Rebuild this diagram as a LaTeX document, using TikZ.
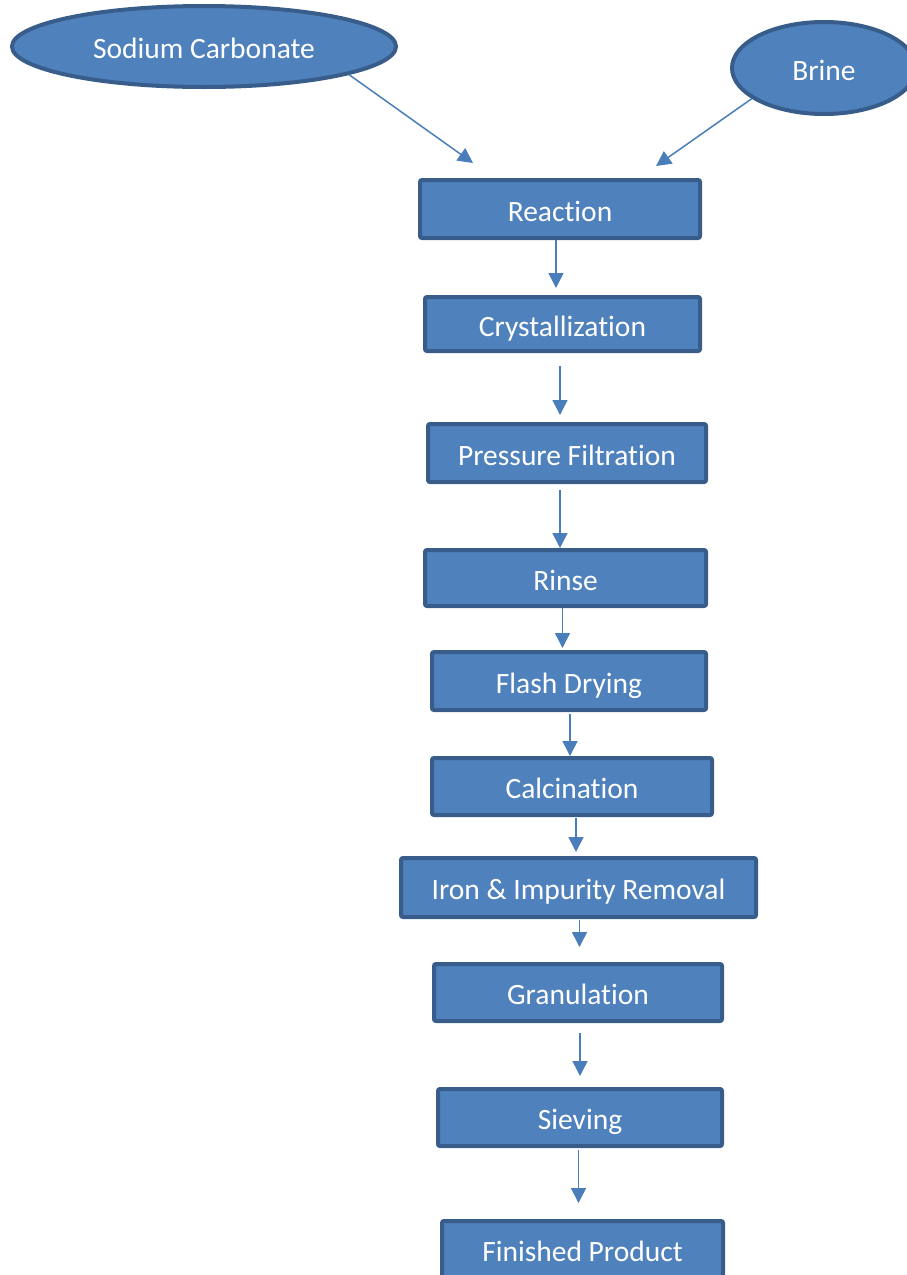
\documentclass[tikz,border=0pt]{standalone}
\usepackage{fontspec}
\setmainfont{Carlito}[Ligatures=NoCommon]
\usetikzlibrary{arrows.meta,shapes.geometric}
\definecolor{boxfill}{HTML}{4F81BD}
\definecolor{boxline}{HTML}{385D8A}
\definecolor{arrowblue}{HTML}{4A7EBB}

\begin{document}
\begin{tikzpicture}[x=1pt,y=-1pt,
    procbox/.style={draw=boxline,fill=boxfill,line width=4pt,rounded corners=2pt,
      text=white,inner sep=0pt,text height=24pt,text depth=0pt,
      font=\fontsize{29.5}{34}\selectfont},
    feedell/.style={ellipse,draw=boxline,fill=boxfill,line width=4pt,
      text=white,inner sep=0pt,text height=24pt,text depth=0pt,
      font=\fontsize{29.5}{34}\selectfont},
    flow/.style={draw=arrowblue,line width=1.5pt,-{Triangle[width=15pt,length=15pt]}}]
  \useasboundingbox (0,0) rectangle (907,1275);

  % raw materials
  \node[feedell,minimum width=384pt,minimum height=81pt] (soda) at (204,46.5) {Sodium Carbonate};
  \node[feedell,minimum width=184pt,minimum height=92pt] (brine) at (824,68) {Brine};

  % process steps
  \foreach \n/\x/\y/\w/\h/\t in {react/560/209/280/58/Reaction,
      cryst/562.5/324/275/54/Crystallization,
      filt/567/453/278/58/Pressure Filtration,
      rinse/565.5/578/281/56/Rinse,
      flash/569/681/274/58/Flash Drying,
      calc/572/786.5/280/57/Calcination,
      iron/578.5/887.5/355/59/Iron \& Impurity Removal,
      gran/578/992.5/288/57/Granulation,
      sieve/580/1117.5/284/57/Sieving,
      prod/582.5/1249/281/56/Finished Product}
    \node[procbox,minimum width=\w pt,minimum height=\h pt] (\n) at (\x,\y) {\t};

  % feeds into the reactor
  \coordinate (sodaIn) at ([shift={(55,-15)}]react.north west);
  \coordinate (brineIn) at ([shift={(-46,-12)}]react.north east);
  \draw[flow] (soda.-11) -- (sodaIn);
  \draw[flow] (brine.203) -- (brineIn);

  % flow down the line
  \foreach \a/\b/\dx/\s/\e in {react/cryst/-4/0/7, cryst/filt/-2.5/13/7,
      filt/rinse/-7/6/0, rinse/flash/-3/0/2, flash/calc/1/2/0, calc/iron/4/1/4,
      iron/gran/1/1/15, gran/sieve/2/10/11, sieve/prod/-1.5/2/16}
    \draw[flow,shorten <=\s pt,shorten >=\e pt] ([xshift=\dx pt]\a.south) -- ([xshift=\dx pt]\a.south |- \b.north);
\end{tikzpicture}
\end{document}
